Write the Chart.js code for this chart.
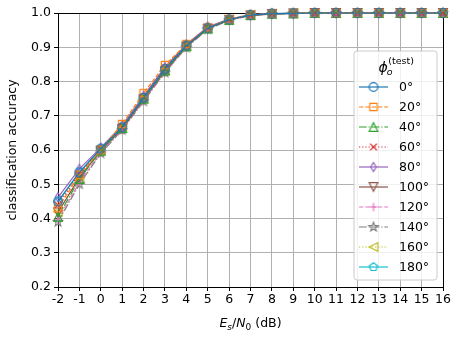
<!DOCTYPE html>
<html>
<head>
<meta charset="utf-8">
<script src="https://cdn.jsdelivr.net/npm/chart.js@4.4.0/dist/chart.umd.min.js"></script>
<style>
  html, body { margin: 0; padding: 0; background: #fff; }
</style>
</head>
<body>
<canvas id="accChart" width="457" height="337"></canvas>
<script>
// Es/N0 in dB
const snrDb = [-2, -1, 0, 1, 2, 3, 4, 5, 6, 7, 8, 9, 10, 11, 12, 13, 14, 15, 16];
const phiLabels = ['0°', '20°', '40°', '60°', '80°', '100°', '120°', '140°', '160°', '180°'];
const yTicks = [0.2, 0.3, 0.4, 0.5, 0.6, 0.7, 0.8, 0.9, 1.0];

// accuracy per test angle
const acc0   = [0.450, 0.535, 0.604, 0.666, 0.752, 0.836, 0.905, 0.956, 0.981, 0.994, 0.998, 0.999, 1.0, 1.0, 1.0, 1.0, 1.0, 1.0, 1.0];
const acc20  = [0.430, 0.527, 0.601, 0.676, 0.766, 0.848, 0.909, 0.958, 0.982, 0.995, 0.998, 0.999, 1.0, 1.0, 1.0, 1.0, 1.0, 1.0, 1.0];
const acc40  = [0.405, 0.515, 0.598, 0.664, 0.750, 0.832, 0.903, 0.955, 0.980, 0.994, 0.998, 0.999, 1.0, 1.0, 1.0, 1.0, 1.0, 1.0, 1.0];
const acc60  = [0.440, 0.530, 0.603, 0.668, 0.755, 0.840, 0.906, 0.957, 0.981, 0.994, 0.998, 0.999, 1.0, 1.0, 1.0, 1.0, 1.0, 1.0, 1.0];
const acc80  = [0.462, 0.545, 0.607, 0.672, 0.758, 0.842, 0.908, 0.960, 0.982, 0.995, 0.998, 0.999, 1.0, 1.0, 1.0, 1.0, 1.0, 1.0, 1.0];
const acc100 = [0.418, 0.520, 0.598, 0.662, 0.748, 0.830, 0.902, 0.954, 0.980, 0.993, 0.997, 0.999, 1.0, 1.0, 1.0, 1.0, 1.0, 1.0, 1.0];
const acc120 = [0.398, 0.505, 0.594, 0.660, 0.745, 0.828, 0.900, 0.953, 0.979, 0.993, 0.997, 0.999, 1.0, 1.0, 1.0, 1.0, 1.0, 1.0, 1.0];
const acc140 = [0.390, 0.500, 0.590, 0.658, 0.742, 0.826, 0.899, 0.952, 0.979, 0.993, 0.997, 0.999, 1.0, 1.0, 1.0, 1.0, 1.0, 1.0, 1.0];
const acc160 = [0.420, 0.515, 0.598, 0.664, 0.750, 0.834, 0.904, 0.955, 0.980, 0.994, 0.998, 0.999, 1.0, 1.0, 1.0, 1.0, 1.0, 1.0, 1.0];
const acc180 = [0.448, 0.535, 0.603, 0.667, 0.753, 0.838, 0.906, 0.957, 0.981, 0.994, 0.998, 0.999, 1.0, 1.0, 1.0, 1.0, 1.0, 1.0, 1.0];

const series = [acc0, acc20, acc40, acc60, acc80, acc100, acc120, acc140, acc160, acc180];
const colors = ['#1f77b4', '#ff7f0e', '#2ca02c', '#d62728', '#9467bd', '#8c564b', '#e377c2', '#7f7f7f', '#bcbd22', '#17becf'];
const shapes = ['o', 's', '^', 'x', 'd', 'v', '+', '*', '<', 'p'];

const LW = 1.2;
const dashes = {
    solid: [],
    dashed: [4.4, 1.9],
    dashdot: [7.7, 1.9, 1.2, 1.9],
    dotted: [1.2, 2.0]
};
const lineStyles = ['solid', 'dashed', 'dashdot', 'dotted', 'solid', 'solid', 'dashed', 'dashdot', 'dotted', 'solid'];

const FONT = 'DejaVu Sans';

function polyPath(g, c, pts) {
    g.moveTo(c + pts[0][0], c + pts[0][1]);
    for (let i = 1; i < pts.length; i++) g.lineTo(c + pts[i][0], c + pts[i][1]);
    g.closePath();
}

// hollow matplotlib-like markers drawn on small canvases
function makeMarker(shape, color) {
    const s = 18, c = s / 2, r = 4.3;
    const cv = document.createElement('canvas');
    cv.width = s; cv.height = s;
    const g = cv.getContext('2d');
    g.strokeStyle = color;
    g.lineWidth = LW;
    g.beginPath();
    switch (shape) {
        case 'o': g.arc(c, c, r, 0, Math.PI * 2); break;
        case 's': g.rect(c - r * 0.85, c - r * 0.85, r * 1.7, r * 1.7); break;
        case '^': polyPath(g, c, [[0, -r], [r, r], [-r, r]]); break;
        case 'v': polyPath(g, c, [[0, r], [r, -r], [-r, -r]]); break;
        case '<': polyPath(g, c, [[-r, 0], [r, -r], [r, r]]); break;
        case 'd': polyPath(g, c, [[0, -r * 1.05], [r * 0.65, 0], [0, r * 1.05], [-r * 0.65, 0]]); break;
        case 'x': {
            const k = r * 0.8;
            g.moveTo(c - k, c - k); g.lineTo(c + k, c + k);
            g.moveTo(c + k, c - k); g.lineTo(c - k, c + k);
            break;
        }
        case '+':
            g.moveTo(c - r, c); g.lineTo(c + r, c);
            g.moveTo(c, c - r); g.lineTo(c, c + r);
            break;
        case '*': {
            const pts = [];
            for (let i = 0; i < 10; i++) {
                const a = -Math.PI / 2 + i * Math.PI / 5;
                const rr = i % 2 === 0 ? r * 1.1 : r * 0.45;
                pts.push([rr * Math.cos(a), rr * Math.sin(a)]);
            }
            polyPath(g, c, pts);
            break;
        }
        case 'p': {
            const pts = [];
            for (let i = 0; i < 5; i++) {
                const a = -Math.PI / 2 + i * 2 * Math.PI / 5;
                pts.push([r * Math.cos(a), r * Math.sin(a)]);
            }
            polyPath(g, c, pts);
            break;
        }
    }
    g.stroke();
    return cv;
}

const markers = shapes.map((sh, i) => makeMarker(sh, colors[i]));

const datasets = series.map((vals, i) => ({
    label: phiLabels[i],
    data: snrDb.map((x, j) => ({ x: x, y: vals[j] })),
    borderColor: colors[i],
    backgroundColor: 'transparent',
    borderWidth: LW,
    borderDash: dashes[lineStyles[i]],
    pointStyle: markers[i],
    pointRadius: 5,
    fill: false,
    tension: 0,
    clip: 8
}));

// legend box, x-axis title with sub-scripts
const extrasPlugin = {
    id: 'extras',
    afterDraw(chart) {
        const ctx = chart.ctx;
        ctx.save();

        // x-axis title
        const parts = [
            { t: 'E', f: 'italic 12.5px ' + FONT, dy: 0 },
            { t: 's', f: 'italic 9px ' + FONT, dy: 3 },
            { t: '/', f: '12.5px ' + FONT, dy: 0 },
            { t: 'N', f: 'italic 12.5px ' + FONT, dy: 0 },
            { t: '0', f: '9px ' + FONT, dy: 3 },
            { t: ' (dB)', f: '12.5px ' + FONT, dy: 0 }
        ];
        let total = 0;
        parts.forEach(p => { ctx.font = p.f; p.w = ctx.measureText(p.t).width; total += p.w; });
        const area = chart.chartArea;
        let x = (area.left + area.right) / 2 - total / 2;
        ctx.fillStyle = '#000';
        ctx.textBaseline = 'alphabetic';
        ctx.textAlign = 'left';
        parts.forEach(p => { ctx.font = p.f; ctx.fillText(p.t, x, 327 + p.dy); x += p.w; });

        // legend frame
        const lx = 354, ly = 51, lw = 83, lh = 229, rad = 3;
        ctx.beginPath();
        ctx.roundRect(lx, ly, lw, lh, rad);
        ctx.fillStyle = 'rgba(255,255,255,0.8)';
        ctx.fill();
        ctx.strokeStyle = '#cccccc';
        ctx.lineWidth = 1;
        ctx.stroke();

        // legend title phi_o^(test)
        const tp = [
            { t: 'ϕ', f: 'italic 14px ' + FONT, dy: 0 },
            { t: 'o', f: 'italic 9.5px ' + FONT, dy: 3 },
            { t: '(test)', f: '9.5px ' + FONT, dy: -8 }
        ];
        ctx.font = tp[0].f; const w0 = ctx.measureText(tp[0].t).width;
        ctx.font = tp[2].f; const w2 = ctx.measureText(tp[2].t).width;
        let tx = 396 - (w0 + w2) / 2;
        ctx.fillStyle = '#000';
        ctx.font = tp[0].f; ctx.fillText(tp[0].t, tx, 72);
        ctx.font = tp[1].f; ctx.fillText(tp[1].t, tx + w0 - 1, 72 + tp[1].dy);
        ctx.font = tp[2].f; ctx.fillText(tp[2].t, tx + w0 + 0.5, 72 + tp[2].dy);

        // legend entries
        chart.data.datasets.forEach((ds, i) => {
            const yy = 87 + 20 * i;
            ctx.beginPath();
            ctx.setLineDash(ds.borderDash);
            ctx.strokeStyle = ds.borderColor;
            ctx.lineWidth = LW;
            ctx.moveTo(359, yy);
            ctx.lineTo(388, yy);
            ctx.stroke();
            ctx.setLineDash([]);
            const m = ds.pointStyle;
            ctx.drawImage(m, 373.5 - m.width / 2, yy - m.height / 2);
            ctx.fillStyle = '#000';
            ctx.font = '12.5px ' + FONT;
            ctx.textBaseline = 'middle';
            ctx.fillText(ds.label, 399, yy + 1);
            ctx.textBaseline = 'alphabetic';
        });
        ctx.restore();
    }
};

const isEdge = (v, edge) => Math.abs(v - edge) < 1e-6;

new Chart(document.getElementById('accChart'), {
    type: 'line',
    data: { datasets: datasets },
    options: {
        responsive: false,
        animation: false,
        layout: { padding: { top: 13, right: 14, left: 0, bottom: 0 } },
        plugins: { legend: { display: false }, tooltip: { enabled: false } },
        scales: {
            x: {
                type: 'linear',
                min: snrDb[0],
                max: snrDb[snrDb.length - 1],
                ticks: { stepSize: 1, color: '#000', font: { family: FONT, size: 12.5 }, padding: 1, maxRotation: 0, autoSkip: false },
                grid: {
                    color: ctx => isEdge(ctx.tick.value, 16) ? '#000' : '#b0b0b0',
                    lineWidth: 1,
                    tickColor: '#000',
                    tickLength: 4
                },
                border: { color: '#000', width: 1 },
                afterFit: s => { s.height = 50; }
            },
            y: {
                min: yTicks[0],
                max: yTicks[yTicks.length - 1],
                afterBuildTicks: s => { s.ticks = yTicks.map(v => ({ value: v })); },
                ticks: { color: '#000', font: { family: FONT, size: 12.5 }, padding: 3, callback: v => v.toFixed(1) },
                grid: {
                    color: ctx => isEdge(ctx.tick.value, 1.0) ? '#000' : '#b0b0b0',
                    lineWidth: 1,
                    tickColor: '#000',
                    tickLength: 4
                },
                border: { color: '#000', width: 1 },
                title: { display: true, text: 'classification accuracy', color: '#000', font: { family: FONT, size: 12.5 }, padding: { top: 5, bottom: 0 } },
                afterFit: s => { s.width = 58; }
            }
        }
    },
    plugins: [extrasPlugin]
});
</script>
</body>
</html>
